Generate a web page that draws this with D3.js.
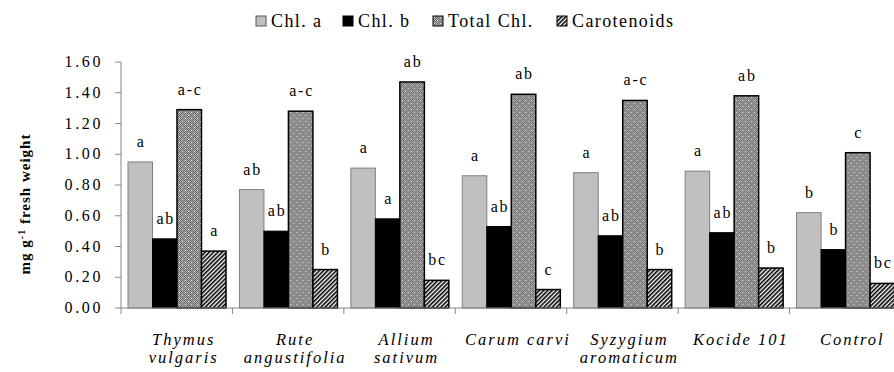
<!DOCTYPE html>
<html>
<head>
<meta charset="utf-8">
<script src="https://cdn.jsdelivr.net/npm/d3@7"></script>
</head>
<body style="margin:0">
<svg id="chart" width="894" height="372"></svg>
<script>
var categories = [
    ["Thymus", "vulgaris"],
    ["Rute", "angustifolia"],
    ["Allium", "sativum"],
    ["Carum carvi"],
    ["Syzygium", "aromaticum"],
    ["Kocide 101"],
    ["Control"]
];
var seriesNames = ["Chl. a", "Chl. b", "Total Chl.", "Carotenoids"];
var chlA  = [0.95, 0.77, 0.91, 0.86, 0.88, 0.89, 0.62];
var chlB  = [0.45, 0.50, 0.58, 0.53, 0.47, 0.49, 0.38];
var total = [1.29, 1.28, 1.47, 1.39, 1.35, 1.38, 1.01];
var carot = [0.37, 0.25, 0.18, 0.12, 0.25, 0.26, 0.16];
var lettersA = ["a", "ab", "a", "a", "a", "a", "b"];
var lettersB = ["ab", "ab", "a", "ab", "ab", "ab", "b"];
var lettersT = ["a-c", "a-c", "ab", "ab", "a-c", "ab", "c"];
var lettersC = ["a", "b", "bc", "c", "b", "b", "bc"];
var yTicks = [0, 0.2, 0.4, 0.6, 0.8, 1.0, 1.2, 1.4, 1.6];

var values = [chlA, chlB, total, carot];
var letters = [lettersA, lettersB, lettersT, lettersC];

var svg = d3.select("#chart"),
    defs = svg.append("defs");

// helper: Times-like serif, a bit spaced out like the original
function serif(sel, size, spacing) {
    return sel.style("font-family", "'Liberation Serif'")
        .style("font-size", size + "px")
        .style("letter-spacing", (spacing || 0) + "px");
}

// Total Chl. : dark checker with white dots
var pt = defs.append("pattern").attr("id", "dots")
    .attr("patternUnits", "userSpaceOnUse").attr("width", 6).attr("height", 6);
pt.append("rect").attr("width", 6).attr("height", 6).attr("fill", "#6e6e6e");
[[0,0],[2,0],[4,0],[1,1],[3,1],[5,1],[0,2],[2,2],[4,2],[1,3],[3,3],[5,3],[0,4],[2,4],[4,4],[1,5],[3,5],[5,5]]
    .forEach(function (p) {
        pt.append("rect").attr("x", p[0]).attr("y", p[1]).attr("width", 1).attr("height", 1).attr("fill", "#a8a8a8");
    });
pt.append("rect").attr("x", 1).attr("y", 1).attr("width", 1).attr("height", 1).attr("fill", "#fff");
pt.append("rect").attr("x", 4).attr("y", 4).attr("width", 1).attr("height", 1).attr("fill", "#fff");

// Carotenoids : diagonal hatch
var ph = defs.append("pattern").attr("id", "hatch")
    .attr("patternUnits", "userSpaceOnUse").attr("width", 3).attr("height", 3)
    .attr("patternTransform", "rotate(45)");
ph.append("rect").attr("width", 3).attr("height", 3).attr("fill", "#fff");
ph.append("rect").attr("width", 1.6).attr("height", 3).attr("fill", "#000");

var fills = ["#c0c0c0", "#000", "url(#dots)", "url(#hatch)"];
var strokes = ["#7f7f7f", "#000", "#000", "#000"];
var strokeW = [1, 1, 1.5, 1.5];

var x0 = d3.scaleBand()
    .domain(d3.range(categories.length))
    .range([121, 901]);

var x1 = d3.scaleBand()
    .domain(d3.range(seriesNames.length))
    .range([7, 105]);

var y = d3.scaleLinear()
    .domain([0, 1.6])
    .range([308, 62]);

// y axis
var yAxis = svg.append("g").attr("class", "yaxis");
yAxis.append("line")
    .attr("x1", 121).attr("x2", 121)
    .attr("y1", y(0)).attr("y2", y(1.6))
    .attr("stroke", "#868686");
yAxis.selectAll("line.tk")
    .data(yTicks)
    .enter().append("line")
    .attr("class", "tk")
    .attr("x1", 115).attr("x2", 121)
    .attr("y1", function (d) { return y(d); })
    .attr("y2", function (d) { return y(d); })
    .attr("stroke", "#868686");
serif(yAxis.selectAll("text")
    .data(yTicks)
    .enter().append("text")
    .attr("x", 103)
    .attr("y", function (d) { return y(d) + 5; })
    .attr("text-anchor", "end")
    .text(d3.format(".2f")), 16, 2.6);

// bars
var groups = svg.selectAll("g.cat")
    .data(categories)
    .enter().append("g")
    .attr("class", "cat")
    .attr("transform", function (d, i) { return "translate(" + x0(i) + ",0)"; });

groups.each(function (d, i) {
    var g = d3.select(this);
    values.forEach(function (vals, s) {
        g.append("rect")
            .attr("x", x1(s))
            .attr("y", y(vals[i]))
            .attr("width", x1.bandwidth())
            .attr("height", y(0) - y(vals[i]))
            .attr("fill", fills[s])
            .attr("stroke", strokes[s])
            .attr("stroke-width", strokeW[s]);
        serif(g.append("text")
            .attr("x", x1(s) + x1.bandwidth() / 2 + 1)
            .attr("y", y(vals[i]) - 15)
            .attr("text-anchor", "middle")
            .text(letters[s][i]), 16, 1.8);
    });
});

// x axis
var xAxis = svg.append("g");
xAxis.append("line")
    .attr("x1", 121).attr("x2", 901)
    .attr("y1", y(0)).attr("y2", y(0))
    .attr("stroke", "#868686");
xAxis.selectAll("line.tk")
    .data(d3.range(categories.length + 1))
    .enter().append("line")
    .attr("class", "tk")
    .attr("x1", function (i) { return 121 + i * x0.bandwidth(); })
    .attr("x2", function (i) { return 121 + i * x0.bandwidth(); })
    .attr("y1", y(0)).attr("y2", y(0) + 6)
    .attr("stroke", "#868686");

groups.each(function (d, i) {
    d.forEach(function (line, k) {
        serif(d3.select(this).append("text")
            .attr("x", x0.bandwidth() / 2 + 7)
            .attr("y", 345 + k * 18)
            .attr("text-anchor", "middle")
            .style("font-style", "italic")
            .text(line), 16.5, 2);
    }, this);
});

// y title
var yt = serif(svg.append("text")
    .attr("transform", "translate(30,204) rotate(-90)")
    .attr("text-anchor", "middle")
    .style("font-weight", "bold"), 15, 1);
yt.append("tspan").text("mg g");
yt.append("tspan").attr("baseline-shift", "super").style("font-size", "10px").text("-1");
yt.append("tspan").text(" fresh weight");

// legend
var legendX = [256, 343, 433, 557];
var legend = svg.selectAll("g.leg")
    .data(seriesNames)
    .enter().append("g")
    .attr("class", "leg")
    .attr("transform", function (d, i) { return "translate(" + legendX[i] + ",16)"; });
legend.append("rect")
    .attr("width", 10).attr("height", 10)
    .attr("fill", function (d, i) { return fills[i]; })
    .attr("stroke", function (d, i) { return i === 0 ? "#555" : "#000"; })
    .attr("stroke-width", 1);
serif(legend.append("text")
    .attr("x", 15).attr("y", 11)
    .text(function (d) { return d; }), 18, 1.4);
</script>
</body>
</html>
